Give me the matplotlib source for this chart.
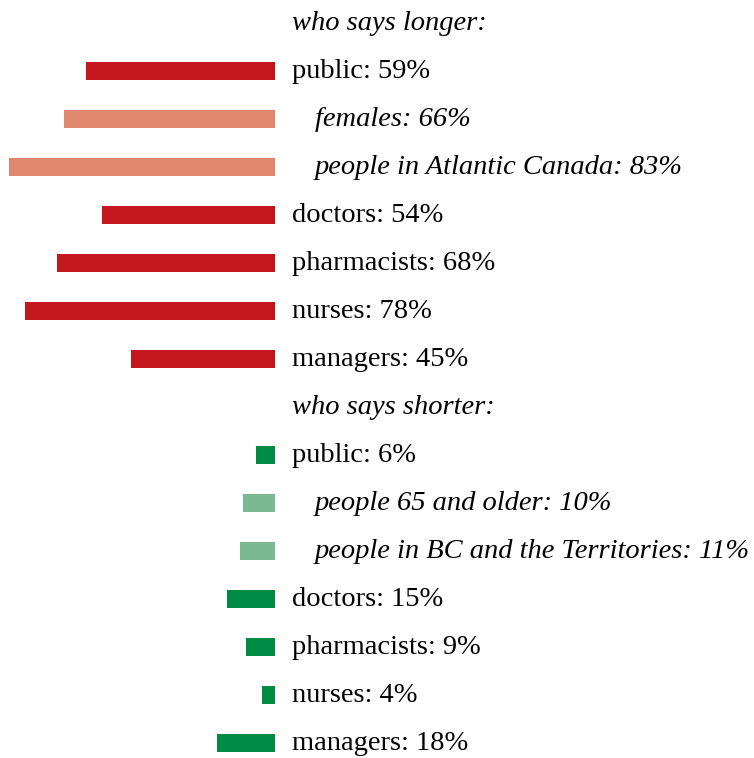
import matplotlib
matplotlib.use("Agg")
import matplotlib.pyplot as plt

labels = ["who says longer:", "public", "females", "people in Atlantic Canada", "doctors",
          "pharmacists", "nurses", "managers",
          "who says shorter:", "public", "people 65 and older", "people in BC and the Territories",
          "doctors", "pharmacists", "nurses", "managers"]
values = [None, 59, 66, 83, 54, 68, 78, 45, None, 6, 10, 11, 15, 9, 4, 18]
kinds = ["header", "main", "sub", "sub", "main", "main", "main", "main",
         "header", "main", "sub", "sub", "main", "main", "main", "main"]
groups = ["longer"] * 8 + ["shorter"] * 8

colors = {("longer", "main"): "#C4161C", ("longer", "sub"): "#E0876D",
          ("shorter", "main"): "#008B45", ("shorter", "sub"): "#7AB992"}

W, H = 754, 758
fig = plt.figure(figsize=(W / 100, H / 100), dpi=100)
ax = fig.add_axes([0, 0, 1, 1])
ppu = 3.2  # pixels per percent
x0 = 275
ax.set_xlim(-x0 / ppu, (W - x0) / ppu)
row = 48
y0 = 23
ax.set_ylim((H - y0) / row, -y0 / row)
ax.axis("off")

fam = ["Liberation Serif", "DejaVu Serif"]
fs = 20.5
for i, (lab, v, k, g) in enumerate(zip(labels, values, kinds, groups)):
    if k == "header":
        ax.text(17 / ppu, i, lab, ha="left", va="center", fontsize=fs,
                style="italic", family=fam)
        continue
    ax.barh(i, -v, left=0, height=0.36, color=colors[(g, k)])
    txt = f"{lab}: {v}%"
    if k == "sub":
        ax.text(40 / ppu, i, txt, ha="left", va="center", fontsize=fs,
                style="italic", family=fam)
    else:
        ax.text(17 / ppu, i, txt, ha="left", va="center", fontsize=fs, family=fam)

fig.savefig("out.png", dpi=100)
